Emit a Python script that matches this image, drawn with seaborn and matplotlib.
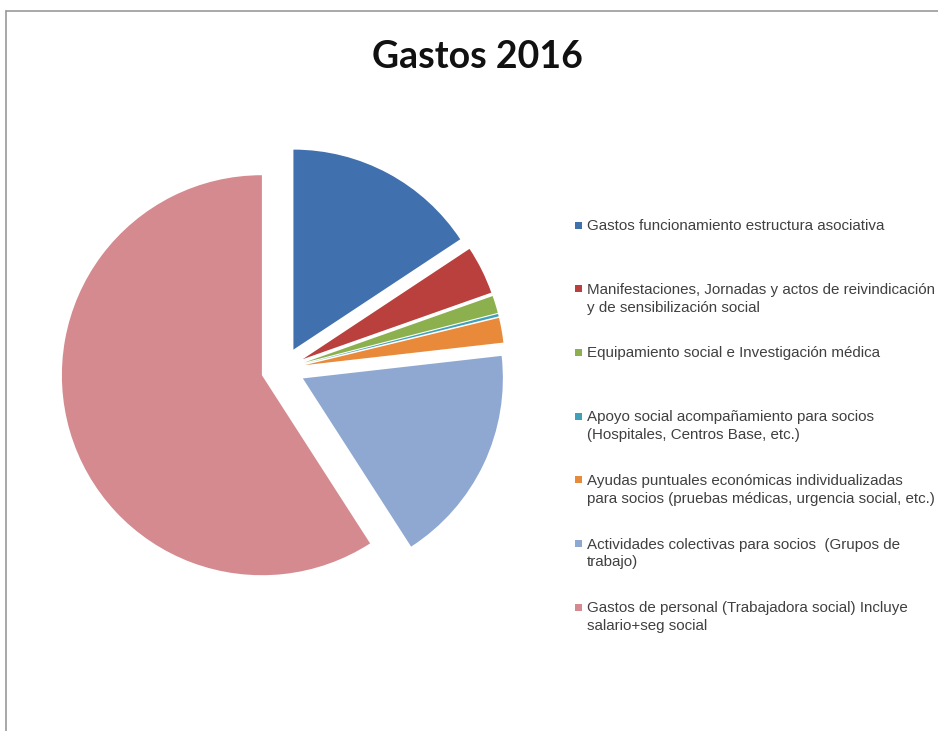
import matplotlib
matplotlib.use("Agg")
import matplotlib.pyplot as plt
import seaborn as sns
from matplotlib.lines import Line2D
from matplotlib.patches import Rectangle

# Gastos 2016 - porcentaje del total
categorias = [
    "Gastos funcionamiento estructura asociativa",
    "Manifestaciones, Jornadas y actos de reivindicación\ny de sensibilización social",
    "Equipamiento social e Investigación médica",
    "Apoyo social acompañamiento para socios\n(Hospitales, Centros Base, etc.)",
    "Ayudas puntuales económicas individualizadas\npara socios (pruebas médicas, urgencia social, etc.)",
    "Actividades colectivas para socios  (Grupos de\ntrabajo)",
    "Gastos de personal (Trabajadora social) Incluye\nsalario+seg social",
]
valores = [15.7, 3.9, 1.4, 0.2, 2.0, 17.7, 59.1]
colores = ["#4070AE", "#BA403E", "#8DB04E", "#3FA0B8", "#E88A3A", "#8FA8D2", "#D48A8F"]

sns.set_theme(style="white")
plt.rcParams["font.family"] = ["Liberation Sans", "DejaVu Sans"]

W, H = 938, 731
fig = plt.figure(figsize=(W / 100, H / 100), dpi=100)
fig.patch.set_facecolor("white")

# pie axes: centre ~ (283, 369) px, radius ~200 px
R = 200
half = 1.3
cx, cy = 283, H - 369
side = 2 * half * R
ax = fig.add_axes([(cx - side / 2) / W, (cy - side / 2) / H, side / W, side / H])
ax.pie(valores, colors=colores, startangle=90, counterclock=False,
       explode=[0.11] * len(valores), wedgeprops=dict(linewidth=0))
ax.set_xlim(-half, half)
ax.set_ylim(-half, half)
ax.set_aspect("equal")
ax.axis("off")

# title
fig.text(477 / W, 1 - 57 / H, "Gastos 2016", ha="center", va="center",
         fontsize=27, fontweight="bold", family=["Lato", "DejaVu Sans"], color="#111111")

# legend, placed like the Excel one (marker next to the first line)
y0, paso = 227, 63.7
for i, (lab, col) in enumerate(zip(categorias, colores)):
    y = y0 + i * paso
    fig.add_artist(Rectangle((575 / W, 1 - (y + 1.5) / H), 7 / W, 7 / H,
                             transform=fig.transFigure, color=col, lw=0))
    fig.text(587 / W, 1 - (y - 8) / H, lab, ha="left", va="top",
             fontsize=10.9, color="#404040", linespacing=1.35)

# chart frame (left and top visible)
fig.add_artist(Line2D([6 / W, 6 / W], [0, 1 - 11 / H], transform=fig.transFigure,
                      color="#9a9a9a", lw=1.2))
fig.add_artist(Line2D([6 / W, 1], [1 - 11 / H, 1 - 11 / H], transform=fig.transFigure,
                      color="#9a9a9a", lw=1.2))

fig.savefig("out.png", dpi=100, facecolor="white")
